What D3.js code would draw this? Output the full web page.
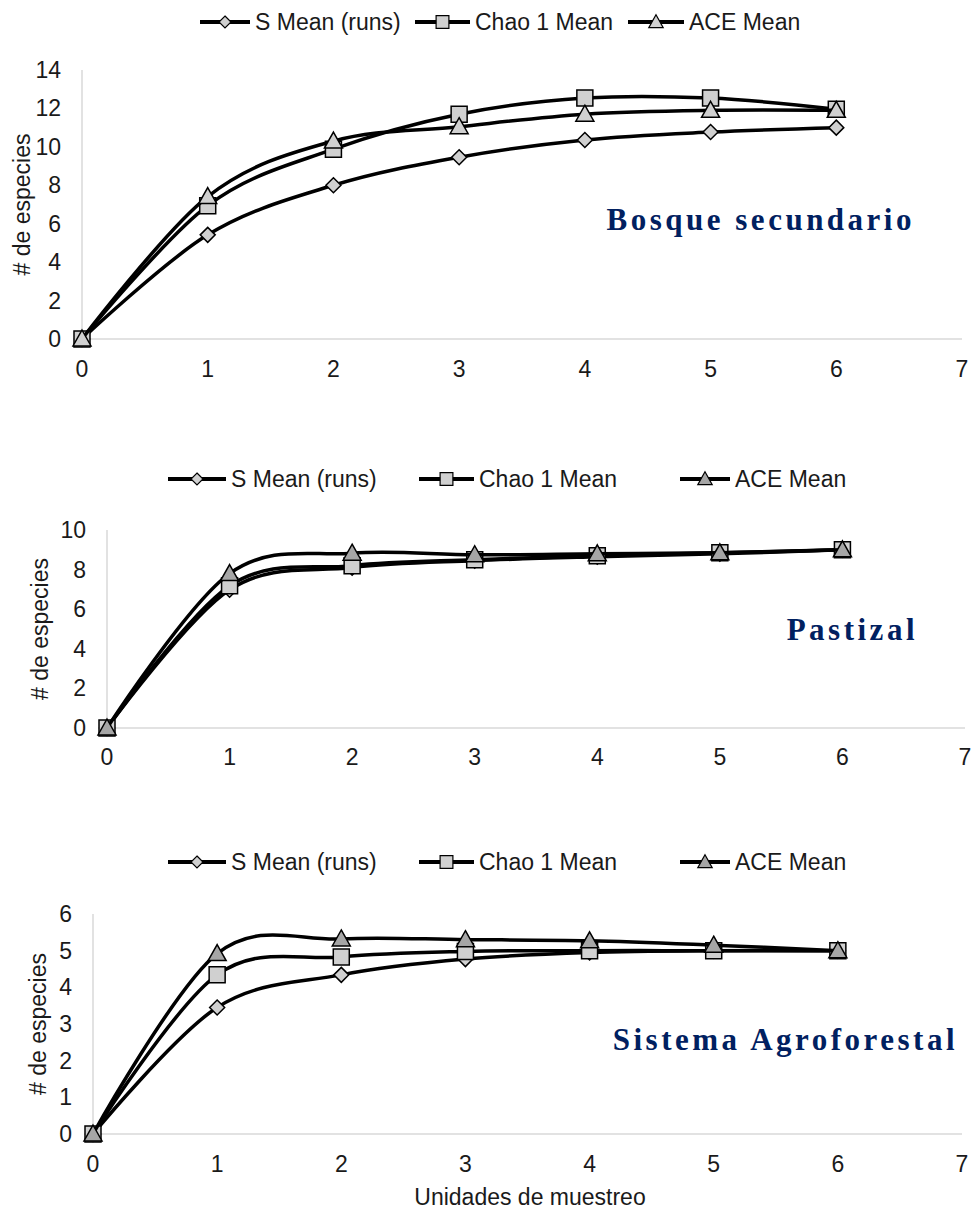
<!DOCTYPE html>
<html>
<head>
<meta charset="utf-8">
<script src="https://cdn.jsdelivr.net/npm/d3@7"></script>
<style>
  body { margin: 0; background: #fff; }
  text { font-family: "Liberation Sans", Arial, sans-serif; }
</style>
</head>
<body>
<div id="chart"></div>
<script>
var W = 974, H = 1210;

// shared data
var units = [0, 1, 2, 3, 4, 5, 6];
var seriesNames = ["S Mean (runs)", "Chao 1 Mean", "ACE Mean"];

var bosqueS    = [0, 5.42, 8.0, 9.46, 10.36, 10.77, 11.0];
var bosqueChao = [0, 6.94, 9.88, 11.7, 12.54, 12.54, 11.96];
var bosqueAce  = [0, 7.41, 10.3, 11.05, 11.7, 11.9, 11.9];

var pastoS    = [0, 6.98, 8.1, 8.45, 8.65, 8.8, 9.0];
var pastoChao = [0, 7.18, 8.2, 8.5, 8.7, 8.85, 9.0];
var pastoAce  = [0, 7.8, 8.83, 8.75, 8.8, 8.85, 9.0];

var agroS    = [0, 3.45, 4.34, 4.77, 4.95, 5.0, 5.0];
var agroChao = [0, 4.34, 4.83, 4.98, 5.0, 5.0, 5.0];
var agroAce  = [0, 4.92, 5.32, 5.3, 5.27, 5.15, 5.0];

var xTicks = [0, 1, 2, 3, 4, 5, 6, 7];

var svg = d3.select("#chart").append("svg")
    .attr("width", W)
    .attr("height", H);

var panels = [
  { name: "Bosque secundario", series: [bosqueS, bosqueChao, bosqueAce], yMax: 14, yStep: 2,
    x0: 82, x1: 962, yTop: 70, yBot: 339, legendY: 22, legendX: [200, 415, 628], legendLen: [50, 55, 56],
    aceFill: "#d0d0d0", ylabX: 30, label: [915, 230], xlabelY: 377 },
  { name: "Pastizal", series: [pastoS, pastoChao, pastoAce], yMax: 10, yStep: 2,
    x0: 107, x1: 965, yTop: 530, yBot: 728, legendY: 479, legendX: [168, 419, 680], legendLen: [58, 55, 50],
    aceFill: "#a6a6a6", ylabX: 48, label: [918, 640], xlabelY: 765 },
  { name: "Sistema Agroforestal", series: [agroS, agroChao, agroAce], yMax: 6, yStep: 1,
    x0: 93, x1: 962, yTop: 914, yBot: 1134, legendY: 862, legendX: [168, 419, 680], legendLen: [58, 55, 50],
    aceFill: "#a6a6a6", ylabX: 46, label: [958, 1050], xlabelY: 1172 }
];

function markerPath(kind) {
  if (kind === 0) return "M0,-7.5L7.5,0L0,7.5L-7.5,0Z";
  if (kind === 1) return "M-8,-8H8V8H-8Z";
  return "M0,-9L9,7H-9Z";
}

panels.forEach(function(p) {
  var x = d3.scaleLinear().domain([0, 7]).range([p.x0, p.x1]);
  var y = d3.scaleLinear().domain([0, p.yMax]).range([p.yBot, p.yTop]);
  var g = svg.append("g");

  // axis lines
  g.append("line").attr("x1", x(0)).attr("x2", x(7)).attr("y1", y(0)).attr("y2", y(0))
    .attr("stroke", "#d9d9d9").attr("stroke-width", 1.5);
  g.append("line").attr("x1", x(0)).attr("x2", x(0)).attr("y1", y(0)).attr("y2", y(p.yMax))
    .attr("stroke", "#d9d9d9").attr("stroke-width", 1.5);

  // y ticks
  g.selectAll(".ytick").data(d3.range(0, p.yMax + 0.001, p.yStep)).enter().append("text")
    .attr("x", x(0) - 21).attr("y", function(d) { return y(d); })
    .attr("dy", "0.35em").attr("text-anchor", "end")
    .attr("font-size", 23).attr("fill", "#1a1a1a")
    .text(function(d) { return d; });

  // x ticks
  g.selectAll(".xtick").data(xTicks).enter().append("text")
    .attr("x", function(d) { return x(d); }).attr("y", p.xlabelY)
    .attr("text-anchor", "middle").attr("font-size", 23).attr("fill", "#1a1a1a")
    .text(function(d) { return d; });

  // y label
  g.append("text")
    .attr("transform", "translate(" + p.ylabX + "," + ((p.yTop + p.yBot) / 2) + ") rotate(-90)")
    .attr("text-anchor", "middle").attr("font-size", 23).attr("fill", "#1a1a1a")
    .text("# de especies");

  var line = d3.line()
    .x(function(d, i) { return x(units[i]); })
    .y(function(d) { return y(d); })
    .curve(d3.curveCardinal.tension(0));

  p.series.forEach(function(vals, k) {
    var fill = k === 2 ? p.aceFill : "#d0d0d0";
    g.append("path").attr("d", line(vals))
      .attr("fill", "none").attr("stroke", "#000").attr("stroke-width", 3.5);
    g.selectAll(".m" + k).data(vals).enter().append("path")
      .attr("d", markerPath(k))
      .attr("transform", function(d, i) { return "translate(" + x(units[i]) + "," + y(d) + ")"; })
      .attr("fill", fill).attr("stroke", "#000").attr("stroke-width", 1.5);
  });

  // legend
  seriesNames.forEach(function(n, k) {
    var lx = p.legendX[k], len = p.legendLen[k];
    var fill = k === 2 ? p.aceFill : "#d0d0d0";
    g.append("line").attr("x1", lx).attr("x2", lx + len).attr("y1", p.legendY).attr("y2", p.legendY)
      .attr("stroke", "#000").attr("stroke-width", 4);
    g.append("path").attr("d", markerPath(k))
      .attr("transform", "translate(" + (lx + len / 2) + "," + p.legendY + ") scale(0.8)")
      .attr("fill", fill).attr("stroke", "#000").attr("stroke-width", 1.5);
    g.append("text").attr("x", lx + len + 5).attr("y", p.legendY).attr("dy", "0.35em")
      .attr("font-size", 23).attr("fill", "#1a1a1a").text(n);
  });

  // panel title
  g.append("text").attr("x", p.label[0]).attr("y", p.label[1])
    .attr("text-anchor", "end")
    .style("font-family", "'Liberation Serif', 'Times New Roman', serif")
    .attr("font-weight", "bold").attr("font-size", 31)
    .attr("letter-spacing", 3.5).attr("fill", "#002060")
    .text(p.name);
});

svg.append("text").attr("x", 530).attr("y", 1205).attr("text-anchor", "middle")
  .attr("font-size", 23).attr("fill", "#1a1a1a").text("Unidades de muestreo");
</script>
</body>
</html>
